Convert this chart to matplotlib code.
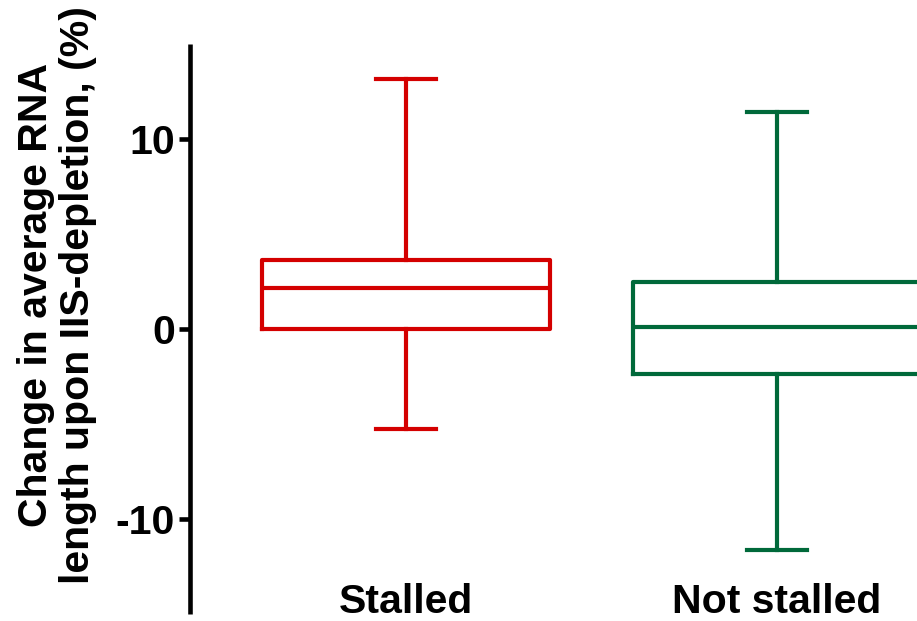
import matplotlib
matplotlib.use('Agg')
import matplotlib.pyplot as plt

# Data (percent change)
groups = ['Stalled', 'Not stalled']
medians = [2.19, 0.14]
q1 = [0.0, -2.33]
q3 = [3.63, 2.49]
whisk_lo = [-5.23, -11.63]
whisk_hi = [13.14, 11.42]
colors = ['#d40000', '#00693a']
yticks = [-10, 0, 10]

plt.rcParams['font.family'] = ['Liberation Sans', 'DejaVu Sans']
plt.rcParams['font.weight'] = 'bold'


def main():
    fig = plt.figure(figsize=(9.17, 6.21), dpi=100)
    ax = fig.add_axes([0.2072, 0.0105, 0.7928, 0.9186])

    positions = [1, 2]
    lw = 3.0
    for i, pos in enumerate(positions):
        stats = [{
            'med': medians[i], 'q1': q1[i], 'q3': q3[i],
            'whislo': whisk_lo[i], 'whishi': whisk_hi[i],
            'label': groups[i],
        }]
        c = colors[i]
        ax.bxp(stats, positions=[pos], widths=0.776, capwidths=0.163,
               showfliers=False, manage_ticks=False,
               boxprops=dict(color=c, linewidth=lw),
               medianprops=dict(color=c, linewidth=lw),
               whiskerprops=dict(color=c, linewidth=lw),
               capprops=dict(color=c, linewidth=lw))

    ax.set_xlim(0.418, 2.377)
    ax.set_ylim(-15, 15)

    for side in ('top', 'right', 'bottom'):
        ax.spines[side].set_visible(False)
    ax.spines['left'].set_linewidth(3.3)
    ax.spines['left'].set_capstyle('butt')

    ax.set_yticks(yticks)
    ax.set_yticklabels([str(t) for t in yticks], fontsize=29.5, fontweight='bold')
    ax.tick_params(axis='y', length=8, width=3.3, pad=3)

    ax.set_xticks(positions)
    ax.set_xticklabels(groups, fontsize=29.5, fontweight='bold')
    ax.tick_params(axis='x', length=0, pad=-23)

    fig.text(0.062, 0.525,
             'Change in average RNA\nlength upon IIS-depletion, (%)',
             rotation=90, ha='center', va='center', multialignment='center',
             fontsize=29.5, fontweight='bold', linespacing=1.15)

    fig.savefig('out.png', dpi=100)


if __name__ == '__main__':
    main()
